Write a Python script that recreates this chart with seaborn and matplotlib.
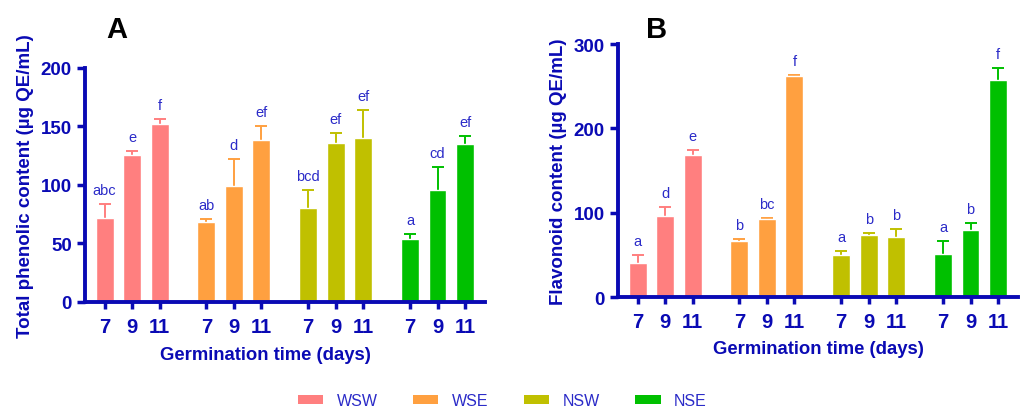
import pandas as pd
import seaborn as sns
import matplotlib.pyplot as plt
from matplotlib.patches import Patch

# treatments and germination days
groups = ['WSW', 'WSE', 'NSW', 'NSE']
days = ['7', '9', '11']
colors = ['#FF7F7F', '#FFA040', '#C0C000', '#00C000']

# panel A: total phenolic content
phenolic_mean = [72, 126, 152, 68, 99, 138, 80, 136, 140, 54, 96, 135]
phenolic_sd = [12, 3, 4, 3, 23, 12, 16, 8, 24, 4, 19, 7]
phenolic_letters = ['abc', 'e', 'f', 'ab', 'd', 'ef', 'bcd', 'ef', 'ef', 'a', 'cd', 'ef']

# panel B: flavonoid content
flavonoid_mean = [40, 96, 169, 66, 92, 262, 50, 74, 71, 51, 80, 258]
flavonoid_sd = [10, 11, 5, 2.5, 1.5, 1, 4.5, 2.5, 10, 16, 8, 13.5]
flavonoid_letters = ['a', 'd', 'e', 'b', 'bc', 'f', 'a', 'b', 'b', 'a', 'b', 'f']

AXIS_BLUE = '#0A0AB4'
TEXT_BLUE = '#2B2BC8'

sns.set_style('ticks')
plt.rcParams['font.family'] = ['Liberation Sans', 'DejaVu Sans']


def make_frame(mean, sd, letters):
    rows = []
    for gi, g in enumerate(groups):
        for di, d in enumerate(days):
            k = gi * 3 + di
            rows.append({'group': g, 'day': d, 'pos': gi * 3.7 + di,
                         'value': mean[k], 'sd': sd[k], 'letter': letters[k]})
    return pd.DataFrame(rows)


def draw_panel(ax, df, ymax, ystep, ylabel, xlabel_x, xlabel_y):
    sns.barplot(data=df, x='pos', y='value', hue='group', hue_order=groups,
                palette=colors, native_scale=True, dodge=False, width=0.65,
                errorbar=None, saturation=1, legend=False, ax=ax, zorder=2)
    # upper-only error bars (mean + SD), hidden lower cap
    for g, c in zip(groups, colors):
        sub = df[df['group'] == g]
        eb = ax.errorbar(sub['pos'], sub['value'], yerr=[[0] * len(sub), sub['sd']],
                         fmt='none', ecolor=c, elinewidth=1.4, capsize=4,
                         capthick=1.4, zorder=1)
        eb[1][0].set_visible(False)
    for _, r in df.iterrows():
        ax.annotate(r['letter'], (r['pos'], r['value'] + r['sd']),
                    xytext=(0, 5), textcoords='offset points', ha='center',
                    va='bottom', color=TEXT_BLUE, fontsize=10.5)

    ax.set_xlim(-0.71, 13.82)
    ax.set_ylim(0, ymax)
    ax.set_yticks(range(0, ymax + 1, ystep))
    ax.set_xticks(df['pos'])
    ax.set_xticklabels(df['day'])
    sns.despine(ax=ax)
    for side in ['left', 'bottom']:
        ax.spines[side].set_color(AXIS_BLUE)
        ax.spines[side].set_linewidth(2.8)
    ax.tick_params(axis='y', colors=AXIS_BLUE, width=2.5, length=6, labelsize=13.5)
    ax.tick_params(axis='x', colors=AXIS_BLUE, width=2.5, length=5, labelsize=14.5, pad=6)
    for t in ax.get_xticklabels() + ax.get_yticklabels():
        t.set_fontweight('bold')
        t.set_color(AXIS_BLUE)
    ax.set_ylabel(ylabel, color=AXIS_BLUE, fontweight='bold', fontsize=13.5, labelpad=5)
    ax.set_xlabel('Germination time (days)', color=AXIS_BLUE, fontweight='bold', fontsize=13.3)
    ax.xaxis.set_label_coords(xlabel_x, xlabel_y)


fig = plt.figure(figsize=(10.25, 4.1), dpi=100)
ax_a = fig.add_axes([0.083, 0.261, 0.390, 0.571])
ax_b = fig.add_axes([0.603, 0.273, 0.390, 0.617])

draw_panel(ax_a, make_frame(phenolic_mean, phenolic_sd, phenolic_letters),
           200, 50, 'Total phenolic content (µg QE/mL)', 0.45, -0.19)
draw_panel(ax_b, make_frame(flavonoid_mean, flavonoid_sd, flavonoid_letters),
           300, 100, 'Flavonoid content (µg QE/mL)', 0.5, -0.17)

fig.text(117 / 1025, 1 - 30 / 410, 'A', fontsize=21, fontweight='bold',
         color='black', ha='center', va='center')
fig.text(657 / 1025, 1 - 30 / 410, 'B', fontsize=21, fontweight='bold',
         color='black', ha='center', va='center')

handles = [Patch(facecolor=c, edgecolor='none') for c in colors]
leg = fig.legend(handles, groups, loc='center', bbox_to_anchor=(0.49, 0.02),
                 ncol=4, frameon=False, fontsize=11.5, handlelength=1.6,
                 handleheight=0.55, handletextpad=0.85, columnspacing=2.2)
for t in leg.get_texts():
    t.set_color(TEXT_BLUE)

fig.savefig('out.png', dpi=100)
